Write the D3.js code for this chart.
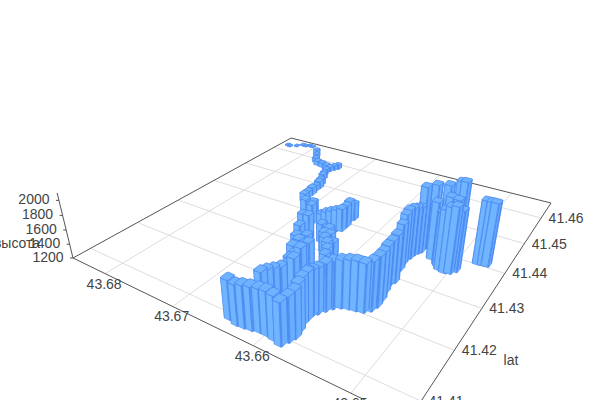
<!DOCTYPE html>
<html><head><meta charset="utf-8"><style>html,body{margin:0;background:#fff}svg{display:block}text{font-family:"Liberation Sans",Arial,sans-serif}</style></head><body>
<script src="https://cdn.jsdelivr.net/npm/d3@7"></script>
<script>
const lngTicks=[43.68,43.67,43.66,43.65], latTicks=[41.41,41.42,41.43,41.44,41.45,41.46], altTicks=[1200,1400,1600,1800,2000];
const lngDom=[43.6854,43.6450], latDom=[41.4066,41.4666], altDom=[1200,2096];
const lngs=[
43.6643,43.6632,43.6624,43.6616,43.6608,43.6600,43.6591,43.6582,43.6579,43.6577,43.6579,43.6582,43.6582,43.6584,43.6582,43.6579,43.6575,43.6571,43.6565,43.6558,43.6551,43.6544,43.6539,43.6537,43.6538,43.6541,43.6543,43.6541,43.6546,43.6548,
43.6549,43.6547,43.6546,43.6544,43.6543,43.6541,43.6542,43.6535,43.6524,43.6516,43.6512,43.6505,43.6514,43.6526,43.6517,43.6510,43.6506,43.6503,43.6500,43.6499,43.6500,43.6481,43.6476,43.6472,43.6622,43.6620,43.6617,43.6613,43.6613,43.6615,
43.6615,43.6661,43.6655,43.6649,43.6644,43.6639,43.6639,43.6642,43.6640,43.6645,43.6631,43.6624,43.6616,43.6610,43.6606,43.6632,43.6626,43.6615,43.6607,43.6611,43.6626,43.6634,43.6654,43.6660,43.6669,43.6677,43.6693,43.6685,43.6644,43.6619,
43.6619,43.6643,43.6841,43.6836,43.6827,43.6821,43.6815,43.6810,43.6804,43.6788,43.6780,43.6771,43.6763,43.6754,43.6745,43.6737,43.6734,43.6731,43.6738,43.6735,43.6731,43.6724,43.6721,43.6721,43.6719,43.6719,43.6716,
43.6515,43.6511,43.6505,43.6500,43.6496];
const lats=[
41.4095,41.4091,41.4092,41.4094,41.4097,41.4097,41.4095,41.4091,41.4102,41.4112,41.4125,41.4139,41.4151,41.4157,41.4164,41.4170,41.4181,41.4191,41.4199,41.4203,41.4205,41.4208,41.4216,41.4228,41.4244,41.4264,41.4285,41.4293,41.4326,41.4343,
41.4356,41.4364,41.4376,41.4384,41.4396,41.4405,41.4390,41.4408,41.4417,41.4437,41.4440,41.4384,41.4389,41.4381,41.4372,41.4369,41.4367,41.4367,41.4369,41.4371,41.4382,41.4407,41.4408,41.4409,41.4127,41.4136,41.4145,41.4154,41.4167,41.4179,
41.4193,41.4364,41.4365,41.4367,41.4372,41.4377,41.4393,41.4411,41.4421,41.4329,41.4305,41.4291,41.4279,41.4265,41.4250,41.4322,41.4311,41.4293,41.4172,41.4197,41.4224,41.4262,41.4284,41.4322,41.4325,41.4369,41.4384,41.4391,41.4252,41.4234,
41.4195,41.4253,41.4628,41.4626,41.4634,41.4646,41.4645,41.4650,41.4649,41.4630,41.4612,41.4589,41.4578,41.4575,41.4571,41.4567,41.4576,41.4584,41.4554,41.4540,41.4527,41.4503,41.4490,41.4479,41.4461,41.4447,41.4430,
41.4368,41.4360,41.4357,41.4360,41.4369];
const alts=[
1714,1723,1745,1755,1754,1764,1760,1745,1770,1797,1813,1806,1811,1788,1777,1790,1817,1818,1819,1830,1840,1827,1840,1856,1840,1819,1788,1840,1827,1885,
1890,1892,1856,1844,1821,1796,2096,2087,2087,2091,2091,2064,2057,1981,1910,1983,2031,2043,2017,2005,1920,2050,2048,2047,1754,1743,1732,1733,1699,1728,
1732,1427,1471,1500,1515,1529,1517,1505,1446,1465,1489,1500,1511,1508,1505,1477,1460,1457,1787,1795,1730,1607,1588,1568,1541,1490,1464,1433,1469,1678,
1797,1607,1219,1219,1219,1219,1219,1219,1219,1255,1254,1271,1271,1270,1270,1270,1270,1270,1269,1269,1285,1301,1316,1283,1315,1298,1329,
1910,2005,2070,2085,2015];
const L=[73,258],B=[408,421],R=[551,203],T=[291,138],V=[315,1250],k=-0.0615;
const su=d3.scaleLinear(lngDom,[0,1]),sv=d3.scaleLinear(latDom,[0,1]),sw=d3.scaleLinear(altDom,[0,1]);
const sizeOf=d3.scaleLinear([1200,1300],[0.55,1]).clamp(true);
function homog(p00,p10,p11,p01){const dx1=p10[0]-p11[0],dx2=p01[0]-p11[0],sx=p00[0]-p10[0]+p11[0]-p01[0],dy1=p10[1]-p11[1],dy2=p01[1]-p11[1],sy=p00[1]-p10[1]+p11[1]-p01[1],den=dx1*dy2-dx2*dy1,g=(sx*dy2-dx2*sy)/den,h=(dx1*sy-sx*dy1)/den;return{a:p10[0]-p00[0]+g*p10[0],b:p01[0]-p00[0]+h*p01[0],c:p00[0],d:p10[1]-p00[1]+g*p10[1],e:p01[1]-p00[1]+h*p01[1],f:p00[1],g,h}}
const H=homog(L,B,R,T);
function P(u,v,w){const den=H.g*u+H.h*v+1+k*w;return[(H.a*u+H.b*v+H.c+k*w*V[0])/den,(H.d*u+H.e*v+H.f+k*w*V[1])/den]}
const svg=d3.select("body").append("svg").attr("width",600).attr("height",400);
const line=d3.line();
const labelStyle=s=>s.attr("dy",".35em").attr("text-anchor","middle").attr("font-size",14).attr("fill","#444");
const gg=svg.append("g").attr("stroke","#ddd").attr("fill","none");
lngTicks.forEach(t=>gg.append("path").attr("d",line([P(su(t),0,0),P(su(t),1,0)])));
latTicks.forEach(t=>gg.append("path").attr("d",line([P(0,sv(t),0),P(1,sv(t),0)])));
svg.append("path").attr("d",line([P(0,0,0),P(1,0,0),P(1,1,0),P(0,1,0),P(0,0,0)])).attr("fill","none").attr("stroke","#555");
svg.append("path").attr("d",line([P(0,0,0),P(0,0,1)])).attr("fill","none").attr("stroke","#555");
altTicks.forEach(t=>{const p=P(0,0,sw(t));svg.append("path").attr("d",line([p,[p[0]-3,p[1]]])).attr("stroke","#555");
 svg.append("text").attr("x",p[0]-25).attr("y",p[1]-1).call(labelStyle).text(t)});
lngTicks.forEach(t=>{const p=P(su(t),0,0);svg.append("text").attr("x",p[0]-1).attr("y",p[1]+10).call(labelStyle).text(t)});
latTicks.forEach(t=>{const p=P(1,sv(t),0);svg.append("text").attr("x",p[0]+25).attr("y",p[1]).call(labelStyle).text(t)});
svg.append("text").attr("x",511).attr("y",360).call(labelStyle).text("lat");
svg.append("text").attr("x",17).attr("y",243).call(labelStyle).text("высота");
const a=0.011,b=0.013,cf=0.22;
const bars=lngs.map((x,i)=>({u:su(x),v:sv(lats[i]),w:sw(alts[i]),s:sizeOf(alts[i])})).sort((p,q)=>(p.u-p.v)-(q.u-q.v));
const fp=[[-a*(1-cf),-b],[a*(1-cf),-b],[a,-b*(1-cf)],[a,b*(1-cf)],[a*(1-cf),b],[-a*(1-cf),b],[-a,b*(1-cf)],[-a,-b*(1-cf)]];
const faces=[[7,0,"#5291f3"],[0,1,"#70b5ff"],[1,2,"#5291f3"],[2,3,"#69aeff"],[3,4,"#5291f3"]];
const gb=svg.append("g").attr("stroke","#4a88f0").attr("stroke-width",.5).attr("stroke-linejoin","round");
bars.forEach(({u,v,w,s})=>{
 const pt=(i,z)=>P(u+s*fp[i][0],v+s*fp[i][1],z);
 faces.forEach(([i,j,c])=>gb.append("path").attr("fill",c).attr("d",line([pt(i,0),pt(j,0),pt(j,w),pt(i,w)])+"Z"));
 gb.append("path").attr("fill","#6fb3ff").attr("stroke-width",.8).attr("d",line(fp.map((_,i)=>pt(i,w)))+"Z");
});
</script></body></html>
